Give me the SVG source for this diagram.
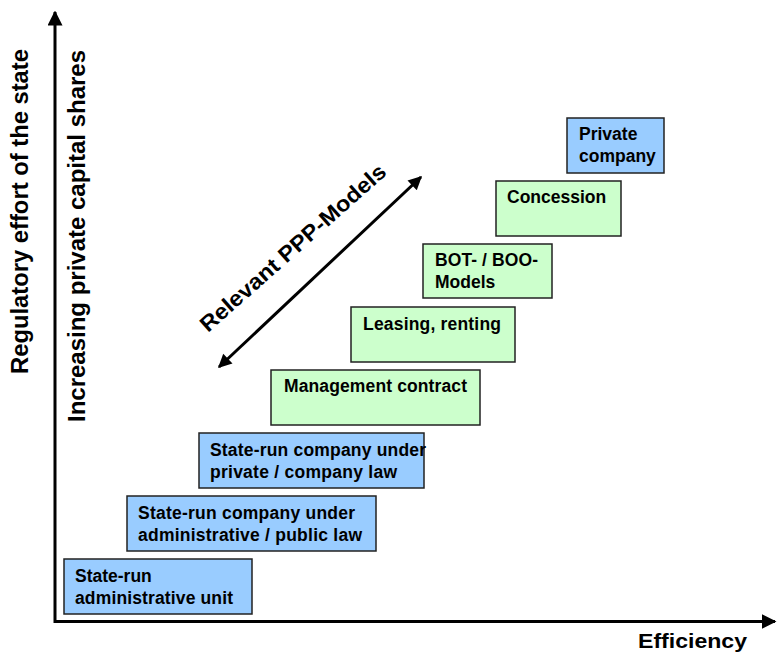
<svg xmlns="http://www.w3.org/2000/svg" width="777" height="652" viewBox="0 0 777 652">
<style>
.box{stroke:#222;stroke-width:1.5}
.blue{fill:#99CCFF}
.green{fill:#CCFFCC}
.t{font-family:"Liberation Sans",Arial,sans-serif;font-weight:bold;font-size:17.5px;fill:#000}
.lab{font-family:"Liberation Sans",Arial,sans-serif;font-weight:bold;font-size:23px;fill:#000}
.ax{stroke:#000;stroke-width:3;fill:none}
</style>
<defs>
<marker id="ah" viewBox="0 0 10 10" refX="9" refY="5" markerWidth="5" markerHeight="5" orient="auto" markerUnits="strokeWidth">
<path d="M0,0 L10,5 L0,10 z" fill="#000"/>
</marker>
<marker id="ah2" viewBox="0 0 10 10" refX="9" refY="5" markerWidth="5.5" markerHeight="4.5" orient="auto-start-reverse" markerUnits="strokeWidth">
<path d="M0,0 L10,5 L0,10 z" fill="#000"/>
</marker>
</defs>
<g id="connectors">
<line class="ax" x1="55" y1="623" x2="55" y2="12" marker-end="url(#ah)"/>
<line class="ax" x1="54" y1="621.5" x2="775" y2="621.5" marker-end="url(#ah)"/>
<line x1="219" y1="367" x2="421" y2="177" stroke="#000" stroke-width="3" marker-start="url(#ah2)" marker-end="url(#ah2)"/>
</g>
<g id="axis-labels">
<text class="lab" transform="translate(28,374) rotate(-90)" textLength="325" lengthAdjust="spacingAndGlyphs">Regulatory effort of the state</text>
<text class="lab" transform="translate(85,422) rotate(-90)" textLength="372" lengthAdjust="spacingAndGlyphs">Increasing private capital shares</text>
<text class="lab" x="638" y="648" style="font-size:20px" textLength="109" lengthAdjust="spacingAndGlyphs">Efficiency</text>
<text class="lab" transform="translate(208,333) rotate(-41.5)" style="font-size:22px" textLength="240" lengthAdjust="spacingAndGlyphs">Relevant PPP-Models</text>
</g>
<g id="n1">
<rect class="box blue" x="64" y="559" width="188" height="55"/>
<text class="t" x="75" y="582">State-run</text>
<text class="t" x="75" y="604" textLength="158">administrative unit</text>
</g>
<g id="n2">
<rect class="box blue" x="127" y="496" width="249" height="55"/>
<text class="t" x="138" y="519" textLength="217">State-run company under</text>
<text class="t" x="138" y="541" textLength="224">administrative / public law</text>
</g>
<g id="n3">
<rect class="box blue" x="199" y="433" width="225" height="55"/>
<text class="t" x="210" y="456" textLength="216">State-run company under</text>
<text class="t" x="210" y="478" textLength="187">private / company law</text>
</g>
<g id="n4">
<rect class="box green" x="271" y="370" width="209" height="55"/>
<text class="t" x="284" y="392" textLength="183">Management contract</text>
</g>
<g id="n5">
<rect class="box green" x="351" y="307" width="164" height="55"/>
<text class="t" x="363" y="330" textLength="138">Leasing, renting</text>
</g>
<g id="n6">
<rect class="box green" x="423" y="244" width="129" height="54"/>
<text class="t" x="435" y="266" textLength="103">BOT- / BOO-</text>
<text class="t" x="435" y="288">Models</text>
</g>
<g id="n7">
<rect class="box green" x="496" y="181" width="125" height="55"/>
<text class="t" x="507" y="203">Concession</text>
</g>
<g id="n8">
<rect class="box blue" x="567" y="118" width="97" height="55"/>
<text class="t" x="579" y="140">Private</text>
<text class="t" x="579" y="162">company</text>
</g>
</svg>
